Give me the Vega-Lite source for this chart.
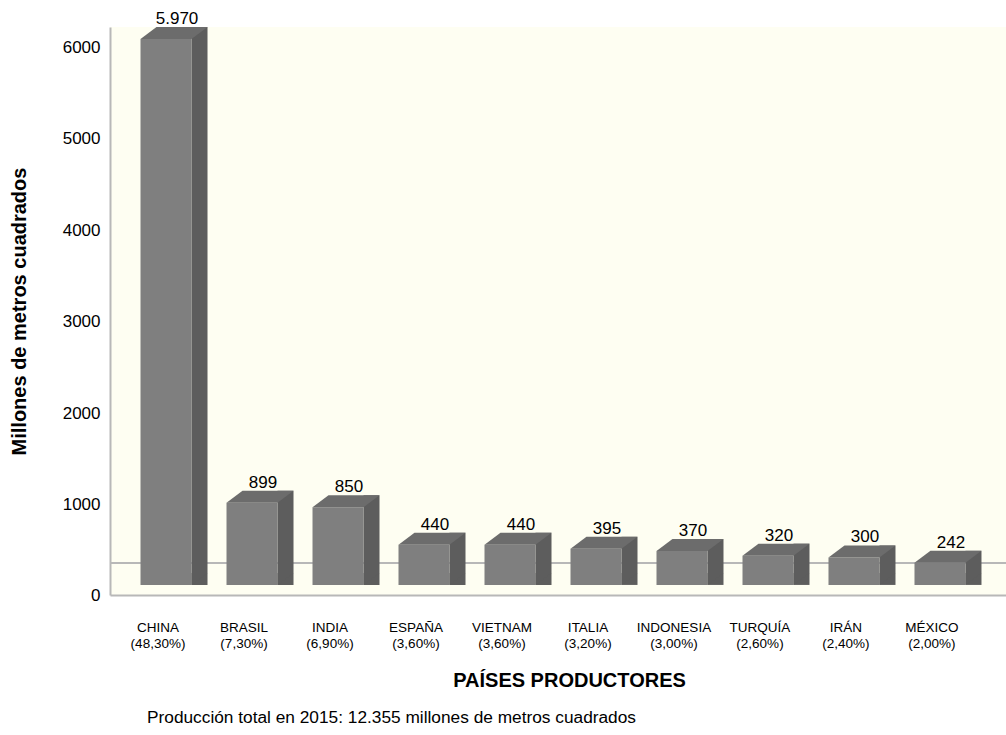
{
  "$schema": "https://vega.github.io/schema/vega-lite/v6.json",
  "width": 896,
  "height": 568,
  "autosize": {"type": "none"},
  "padding": {"left": 110, "top": 27, "right": 0, "bottom": 140},
  "background": "#ffffff",
  "title": {
    "text": "Producción total en 2015: 12.355 millones de metros cuadrados",
    "orient": "bottom",
    "anchor": "start",
    "frame": "group",
    "font": "Liberation Sans",
    "fontSize": 17.3,
    "fontWeight": "normal",
    "color": "#000000",
    "dx": 37,
    "offset": 18
  },
  "data": {
    "values": [
      {"pais": "CHINA (48,30%)", "valor": 5970},
      {"pais": "BRASIL (7,30%)", "valor": 899},
      {"pais": "INDIA (6,90%)", "valor": 850},
      {"pais": "ESPAÑA (3,60%)", "valor": 440},
      {"pais": "VIETNAM (3,60%)", "valor": 440},
      {"pais": "ITALIA (3,20%)", "valor": 395},
      {"pais": "INDONESIA (3,00%)", "valor": 370},
      {"pais": "TURQUÍA (2,60%)", "valor": 320},
      {"pais": "IRÁN (2,40%)", "valor": 300},
      {"pais": "MÉXICO (2,00%)", "valor": 242}
    ]
  },
  "layer": [
    {
      "mark": {"type": "rule", "color": "#b8b8b8", "strokeWidth": 2, "yOffset": -22},
      "encoding": {
        "y": {"datum": 0, "type": "quantitative"}
      }
    },
    {
      "mark": {"type": "bar", "width": 16, "xOffset": 41.5, "yOffset": -12, "color": "#5d5d5d"},
      "encoding": {
        "x": {
          "field": "pais",
          "type": "nominal",
          "sort": null,
          "scale": {"paddingInner": 0.407, "paddingOuter": 0.413, "align": 0.317, "round": false},
          "axis": {
            "title": "PAÍSES PRODUCTORES",
            "labelExpr": "split(datum.value, ' ')",
            "labelAngle": 0,
            "labelFont": "Liberation Sans",
            "labelFontSize": 13.5,
            "labelLineHeight": 16,
            "labelColor": "#000000",
            "labelPadding": 25,
            "ticks": false,
            "domainColor": "#b8b8b8",
            "domainWidth": 2,
            "titleFont": "Liberation Sans",
            "titleFontSize": 20,
            "titleFontWeight": "bold",
            "titleColor": "#000000",
            "titlePadding": 21,
            "titleX": 459
          }
        },
        "y": {
          "field": "valor",
          "type": "quantitative",
          "scale": {"domain": [-110, 6100], "nice": false, "zero": false},
          "axis": {
            "title": "Millones de metros cuadrados",
            "values": [0, 1000, 2000, 3000, 4000, 5000, 6000],
            "format": "d",
            "grid": false,
            "ticks": false,
            "labelOffset": 11,
            "labelFont": "Liberation Sans",
            "labelFontSize": 17,
            "labelColor": "#000000",
            "labelPadding": 10,
            "domainColor": "#b8b8b8",
            "domainWidth": 2,
            "titleFont": "Liberation Sans",
            "titleFontSize": 20,
            "titleFontWeight": "bold",
            "titleColor": "#000000",
            "titlePadding": 33
          }
        },
        "y2": {"datum": 0}
      }
    },
    {
      "mark": {
        "type": "point",
        "shape": "M 0.761 0 L 0.761 -0.358 L 1.239 -0.358 Z",
        "size": 4489,
        "filled": true,
        "opacity": 1,
        "strokeWidth": 0,
        "xOffset": 8,
        "color": "#5d5d5d"
      },
      "encoding": {
        "x": {"field": "pais", "type": "nominal", "sort": null},
        "y": {"datum": 0, "type": "quantitative"}
      }
    },
    {
      "mark": {"type": "bar", "width": 51, "xOffset": 8, "color": "#7f7f7f"},
      "encoding": {
        "x": {"field": "pais", "type": "nominal", "sort": null},
        "y": {"field": "valor", "type": "quantitative"},
        "y2": {"datum": 0}
      }
    },
    {
      "mark": {
        "type": "point",
        "shape": "M -0.761 0 L 0.761 0 L 1.239 -0.358 L -0.284 -0.358 Z",
        "size": 4489,
        "filled": true,
        "opacity": 1,
        "strokeWidth": 0,
        "xOffset": 8,
        "color": "#6c6c6c"
      },
      "encoding": {
        "x": {"field": "pais", "type": "nominal", "sort": null},
        "y": {"field": "valor", "type": "quantitative"}
      }
    },
    {
      "mark": {
        "type": "text",
        "font": "Liberation Sans",
        "fontSize": 17,
        "color": "#000000",
        "baseline": "alphabetic",
        "align": "center",
        "xOffset": 19,
        "dy": -15
      },
      "encoding": {
        "x": {"field": "pais", "type": "nominal", "sort": null},
        "y": {"field": "valor", "type": "quantitative"},
        "text": {"field": "valor", "type": "quantitative", "format": ","}
      }
    }
  ],
  "config": {
    "locale": {
      "number": {"decimal": ",", "thousands": ".", "grouping": [3], "currency": ["", " €"]}
    },
    "view": {"fill": "#fefef2", "stroke": null},
    "axis": {"labelFontWeight": "normal"}
  }
}
